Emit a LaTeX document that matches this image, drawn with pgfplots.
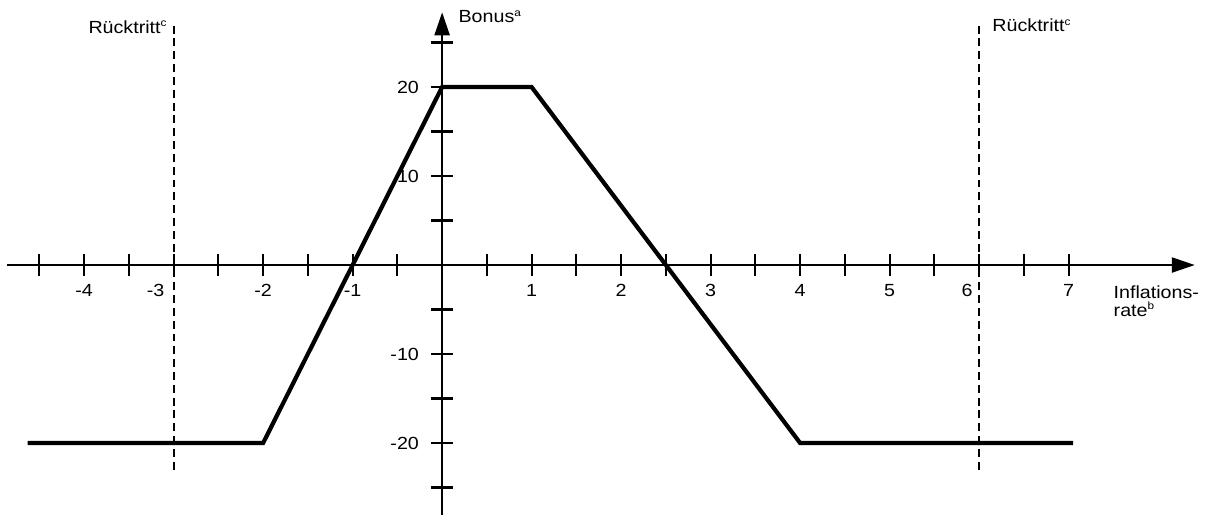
\documentclass[border=0pt]{standalone}
\usepackage{fontspec}
\setmainfont{Liberation Sans}[FakeStretch=1.12]
\usepackage{pgfplots}
\pgfplotsset{compat=1.18}
\usetikzlibrary{arrows.meta}

\newcommand{\smallsup}[1]{\textsuperscript{\fontsize{6}{6}\selectfont #1}}

\begin{document}
\begin{tikzpicture}
  \begin{axis}[
    x=1.79cm, y=0.178cm,
    axis lines=middle,
    xmin=-4.86, xmax=8.41, ymin=-28.09, ymax=28.4,
    enlargelimits=false, clip=false,
    axis line style={line width=1.3pt,-{Triangle[length=0.46cm,width=0.3cm]}},
    xtick={-4.5,-4,...,7},
    xticklabels={,-4,,{-3\hspace*{0.72cm}},,-2,,-1,,,,1,,2,,3,,4,,5,,{6\hspace*{0.48cm}},,7},
    ytick={-25,-20,...,25},
    yticklabels={,-20,,-10,,,,10,,20,},
    tick align=center, major tick length=0.44cm,
    tick style={line width=1.2pt,black},
    tick label style={font=\fontsize{10}{12}\selectfont},
    xticklabel style={yshift=-0.04cm},
    yticklabel style={xshift=-0.12cm},
  ]
    % Rücktritt limits
    \addplot[black,line width=1.2pt,dash pattern=on 4.5pt off 2.8pt] coordinates {(-3,-23) (-3,27.2)};
    \addplot[black,line width=1.2pt,dash pattern=on 4.5pt off 2.8pt] coordinates {(6,-23) (6,27.2)};
    % bonus schedule
    \addplot[black,line width=2.4pt] coordinates {(-4.63,-20) (-2,-20) (0,20) (1,20) (4,-20) (7.05,-20)};

    \node[anchor=base west,inner sep=0pt,font=\fontsize{10}{12}\selectfont] at (axis cs:-3.955,26.07) {Rücktritt\smallsup{c}};
    \node[anchor=base west,inner sep=0pt,font=\fontsize{10}{12}\selectfont] at (axis cs:6.145,26.2) {Rücktritt\smallsup{c}};
    \node[anchor=base west,inner sep=0pt,font=\fontsize{10}{12}\selectfont] at (axis cs:0.18,27.2) {Bonus\smallsup{a}};
    \node[anchor=base west,inner sep=0pt,font=\fontsize{10}{12}\selectfont] at (axis cs:7.5,-3.71) {Inflations-};
    \node[anchor=base west,inner sep=0pt,font=\fontsize{10}{12}\selectfont] at (axis cs:7.5,-5.73) {rate\smallsup{b}};

    % page extent
    \path (axis cs:-4.94,-28.09) rectangle (axis cs:8.58,29.78);
  \end{axis}
\end{tikzpicture}
\end{document}
